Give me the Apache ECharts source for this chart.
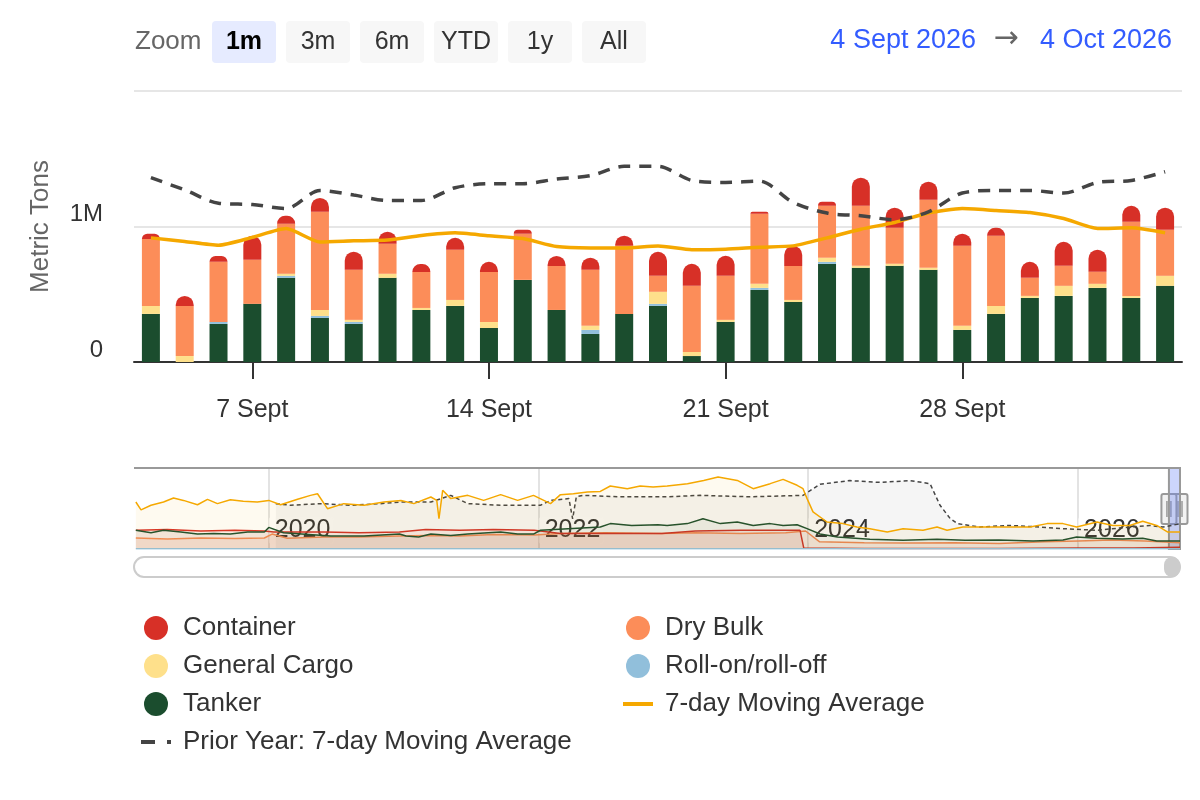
<!DOCTYPE html>
<html>
<head>
<meta charset="utf-8">
<script src="https://cdn.jsdelivr.net/npm/echarts@6/dist/echarts.min.js"></script>
<style>
html, body { margin: 0; padding: 0; background: #fff; }
#chart { width: 1200px; height: 800px; }
</style>
</head>
<body>
<div id="chart"></div>
<script>
// daily tonnage, millions of metric tons
var dates = ['2026-09-04','2026-09-05','2026-09-06','2026-09-07','2026-09-08','2026-09-09','2026-09-10',
  '2026-09-11','2026-09-12','2026-09-13','2026-09-14','2026-09-15','2026-09-16','2026-09-17','2026-09-18',
  '2026-09-19','2026-09-20','2026-09-21','2026-09-22','2026-09-23','2026-09-24','2026-09-25','2026-09-26',
  '2026-09-27','2026-09-28','2026-09-29','2026-09-30','2026-10-01','2026-10-02','2026-10-03','2026-10-04'];
var tanker = [0.355,0,0.281,0.429,0.621,0.325,0.281,0.621,0.384,0.414,0.251,0.606,0.384,0.207,0.355,
  0.414,0.044,0.296,0.532,0.443,0.724,0.695,0.71,0.68,0.237,0.355,0.473,0.488,0.547,0.473,0.562];
var roro = [0,0,0.015,0,0.015,0.015,0.015,0,0,0,0,0,0,0.03,0,
  0.015,0,0,0.015,0,0.015,0,0,0,0,0,0,0,0,0,0];
var generalCargo = [0.059,0.044,0,0,0.015,0.044,0.015,0.03,0.015,0.044,0.044,0,0,0.03,0,
  0.089,0.03,0.015,0.03,0.015,0.03,0.015,0.015,0.015,0.03,0.059,0.015,0.074,0.03,0.015,0.074];
var dryBulk = [0.493,0.37,0.443,0.325,0.37,0.724,0.37,0.222,0.266,0.37,0.37,0.34,0.325,0.414,0.503,
  0.118,0.488,0.325,0.517,0.251,0.384,0.443,0.266,0.503,0.591,0.517,0.133,0.148,0.089,0.547,0.34];
var container = [0.039,0.074,0.044,0.177,0.059,0.103,0.133,0.089,0.059,0.089,0.074,0.03,0.074,0.089,0.074,
  0.177,0.163,0.148,0.015,0.148,0.03,0.207,0.148,0.133,0.089,0.059,0.118,0.177,0.163,0.118,0.163];
var movingAvg = [0.916,0.89,0.862,0.92,0.985,0.886,0.894,0.9,0.934,0.953,0.931,0.911,0.852,0.842,0.842,
  0.857,0.828,0.832,0.847,0.857,0.916,0.98,1.03,1.1,1.133,1.118,1.103,1.059,0.985,0.99,0.953];
var priorYearAvg = [1.36,1.27,1.172,1.162,1.133,1.266,1.232,1.192,1.192,1.286,1.316,1.316,1.35,1.375,1.444,
  1.444,1.34,1.325,1.335,1.177,1.099,1.079,1.05,1.108,1.247,1.266,1.266,1.247,1.325,1.34,1.404];

// navigator (whole history), read coarsely from the overview strip
var navMovingAvg = [['2019-01-06',2.61],['2019-01-20',2.17],['2019-02-16',2.43],['2019-03-22',2.61],['2019-04-18',2.83],
  ['2019-05-15',2.7],['2019-06-22',2.46],['2019-07-19',2.76],['2019-08-15',2.52],['2019-09-19',2.74],['2019-10-24',2.65],
  ['2019-12-01',2.61],['2020-01-01',2.7],['2020-02-02',2.46],['2020-03-19',2.76],['2020-04-23',2.98],['2020-05-12',3.07],
  ['2020-06-08',2.24],['2020-07-22',2.52],['2020-09-15',2.43],['2020-11-08',2.61],['2020-12-24',2.7],['2021-01-28',2.52],
  ['2021-03-15',2.89],['2021-03-31',2.7],['2021-04-06',1.68],['2021-04-16',3.26],['2021-05-08',2.8],['2021-06-23',2.98],
  ['2021-08-05',2.7],['2021-09-20',3.02],['2021-11-05',2.7],['2021-12-18',2.98],['2022-02-02',2.52],['2022-03-01',3.02],
  ['2022-04-05',3.07],['2022-05-13',3.17],['2022-06-17',3.2],['2022-07-14',3.5],['2022-08-29',3.35],['2022-10-03',3.5],
  ['2022-11-07',3.44],['2022-12-15',3.5],['2023-02-08',3.63],['2023-03-24',3.81],['2023-05-02',4.0],['2023-06-23',3.81],
  ['2023-08-05',3.35],['2023-09-20',3.63],['2023-10-25',3.87],['2023-12-02',3.54],['2023-12-18',3.35],['2023-12-29',2.8],
  ['2024-01-14',2.06],['2024-02-21',1.5],['2024-04-04',1.41],['2024-05-12',1.22],['2024-06-16',1.13],['2024-08-02',0.94],
  ['2024-09-14',1.13],['2024-11-07',1.04],['2024-12-15',1.22],['2025-01-11',1.04],['2025-02-23',1.22],['2025-05-26',1.22],
  ['2025-08-24',1.22],['2025-10-09',1.41],['2025-11-21',1.41],['2025-12-28',1.22],['2026-02-21',1.5],['2026-04-05',1.31],
  ['2026-05-21',1.31],['2026-06-25',1.54],['2026-08-02',1.31],['2026-09-01',0.94],['2026-10-04',0.95]];
var navPriorYear = [['2020-01-20',2.52],['2020-03-01',2.43],['2020-05-21',2.52],['2020-08-10',2.43],['2020-10-30',2.52],
  ['2020-12-24',2.61],['2021-03-15',2.61],['2021-05-08',2.98],['2021-06-23',2.52],['2021-09-20',2.43],['2022-01-06',2.43],
  ['2022-02-02',2.7],['2022-03-24',2.8],['2022-04-03',1.67],['2022-04-13',2.9],['2022-05-02',2.98],['2022-08-10',2.9],
  ['2022-12-15',2.9],['2023-03-15',2.98],['2023-07-28',2.9],['2023-12-18',2.98],['2024-02-02',3.6],['2024-04-23',3.8],
  ['2024-07-14',3.7],['2024-10-03',3.8],['2024-11-26',3.63],['2024-12-23',2.43],['2025-01-20',1.68],['2025-02-08',1.41],
  ['2025-04-10',1.22],['2025-07-01',1.31],['2025-09-20',1.22],['2025-11-21',1.13],['2026-02-21',1.04],['2026-05-21',1.22],
  ['2026-07-14',1.31],['2026-08-19',1.22],['2026-10-04',1.4]];
var navTanker = [['2019-01-06',1.04],['2019-02-16',0.9],['2019-03-22',1.04],['2019-05-08',0.94],['2019-06-22',0.83],
  ['2019-08-05',0.86],['2019-09-19',0.83],['2019-11-05',0.94],['2019-12-20',0.94],['2020-01-01',1.2],['2020-02-10',0.9],
  ['2020-06-17',0.72],['2020-09-15',0.72],['2020-12-20',0.83],['2021-01-07',0.72],['2021-02-10',0.67],['2021-03-15',0.83],
  ['2021-05-08',0.75],['2021-06-23',0.83],['2021-09-20',0.94],['2021-11-05',0.83],['2021-12-18',0.83],['2022-01-06',1.04],
  ['2022-06-17',1.22],['2022-07-14',1.41],['2022-09-10',1.31],['2022-11-20',1.35],['2022-12-15',1.31],['2023-02-08',1.41],
  ['2023-03-22',1.68],['2023-05-08',1.41],['2023-06-23',1.5],['2023-08-05',1.31],['2023-09-20',1.41],['2023-10-25',1.31],
  ['2023-12-02',1.35],['2023-12-29',1.13],['2024-02-02',0.83],['2024-03-20',0.67],['2024-06-16',0.54],['2024-09-14',0.48],
  ['2024-12-15',0.54],['2025-03-01',0.48],['2025-06-01',0.5],['2025-09-01',0.45],['2025-11-21',0.5],['2025-12-28',0.67],
  ['2026-02-21',0.6],['2026-05-01',0.55],['2026-06-25',0.6],['2026-08-02',0.45],['2026-10-04',0.45]];
var navContainer = [['2019-01-06',1.04],['2019-04-01',1.08],['2019-07-01',1.0],['2019-10-01',1.04],['2019-12-20',1.0],
  ['2020-01-15',0.95],['2020-06-01',0.95],['2020-09-01',0.9],['2020-12-20',0.95],['2021-03-01',1.08],['2021-06-01',1.04],
  ['2021-09-01',1.08],['2021-12-20',1.04],['2022-03-01',0.86],['2022-07-01',0.86],['2022-12-01',0.86],['2023-03-01',1.0],
  ['2023-07-01',1.04],['2023-12-10',1.04],['2023-12-20',0.05],['2024-06-01',0.03],['2025-01-01',0.03],['2025-06-01',0.03],
  ['2026-01-01',0.05],['2026-06-01',0.05],['2026-10-04',0.1]];
var navDryBulk = [['2019-01-06',0.61],['2019-04-01',0.55],['2019-07-01',0.61],['2019-10-01',0.58],['2019-12-20',0.61],
  ['2020-01-10',0.83],['2020-02-20',0.6],['2020-06-01',0.67],['2020-09-01',0.67],['2020-12-20',0.72],['2021-03-01',0.75],
  ['2021-06-01',0.72],['2021-09-01',0.8],['2021-12-20',0.78],['2022-03-01',0.86],['2022-07-01',0.9],['2022-12-01',0.86],
  ['2023-03-01',0.9],['2023-07-01',0.86],['2023-11-01',0.9],['2023-12-25',1.0],['2024-02-01',0.4],['2024-06-01',0.35],
  ['2024-10-01',0.33],['2025-02-01',0.35],['2025-06-01',0.3],['2025-10-01',0.4],['2026-01-01',0.45],['2026-04-01',0.5],
  ['2026-07-01',0.45],['2026-10-04',0.35]];
var navRoro = [['2019-01-06',0.02],['2022-01-01',0.02],['2024-01-01',0.01],['2026-10-04',0.01]];
var navStart = '2019-01-01';
var navEnd = '2026-10-04';
var navYears = ['2020-01-01','2022-01-01','2024-01-01','2026-01-01'];
var labelDays = ['2026-09-07','2026-09-14','2026-09-21','2026-09-28'];
var zoomButtons = ['1m','3m','6m','YTD','1y','All'];

var FONT = "'Liberation Sans', Arial, Helvetica, sans-serif";
var COLORS = {
  container: '#d73027', dryBulk: '#fc8d59', general: '#fee08b',
  roro: '#91bfdb', tanker: '#1b4d2e', avg: '#f5a800', prior: '#444444'
};
var LINE_ICON = 'path://M0,0h30v4h-30z';
var DASH_ICON = 'path://M0,0h14v4h-14zM26,0h4v4h-4z';

function ts(d) { return +new Date(d + 'T00:00:00'); }
function toPairs(arr) { return arr.map(function (p) { return [ts(p[0]), p[1]]; }); }
function dayLabel(d) {
  var parts = d.split('-');
  return (+parts[2]) + ' ' + (parts[1] === '09' ? 'Sept' : 'Oct');
}
function showDay(i, v) { return labelDays.indexOf(v) >= 0; }

var chart = echarts.init(document.getElementById('chart'));

function barSeries(name, data, color, top) {
  return {
    name: name, type: 'bar', stack: 'total', data: data, barWidth: 18,
    xAxisIndex: 0, yAxisIndex: 0,
    itemStyle: { color: color, borderRadius: top ? [9, 9, 0, 0] : 0 }
  };
}
function navSeries(name, data, color, dashed, z, fill) {
  return {
    name: name, type: 'line', xAxisIndex: 1, yAxisIndex: 1, data: toPairs(data),
    showSymbol: false, symbol: 'none', silent: true, z: z,
    lineStyle: { color: color, width: 1.5, type: dashed ? [4, 3] : 'solid' },
    areaStyle: { color: color, opacity: fill }
  };
}
function legendBox(left, items) {
  return {
    left: left, top: 615, orient: 'vertical', padding: 0,
    itemGap: 12, itemWidth: 30, itemHeight: 24,
    textStyle: { fontSize: 26, color: '#333', lineHeight: 26, padding: [0, 0, 0, 7] },
    data: items
  };
}

var option = {
  animation: false,
  textStyle: { fontFamily: FONT },
  grid: [
    { left: 134, right: 18, top: 91, height: 271 },
    { left: 134, right: 20, top: 468, height: 81 }
  ],
  legend: [
    legendBox(141, [
      { name: 'Container', icon: 'circle' },
      { name: 'General Cargo', icon: 'circle' },
      { name: 'Tanker', icon: 'circle' },
      { name: 'Prior Year: 7-day Moving Average', icon: DASH_ICON }
    ]),
    legendBox(623, [
      { name: 'Dry Bulk', icon: 'circle' },
      { name: 'Roll-on/roll-off', icon: 'circle' },
      { name: '7-day Moving Average', icon: LINE_ICON }
    ])
  ],
  xAxis: [
    {
      type: 'category', gridIndex: 0, data: dates,
      axisLine: { show: true, lineStyle: { color: '#333', width: 2 } },
      axisTick: { show: true, alignWithLabel: true, length: 17, interval: showDay, lineStyle: { color: '#333', width: 2 } },
      axisLabel: { interval: showDay, formatter: dayLabel, fontSize: 25, color: '#333', margin: 36 }
    },
    {
      // timestamps on a plain value axis; year lines placed by customValues
      type: 'value', gridIndex: 1, min: ts(navStart), max: ts(navEnd),
      axisLine: { show: false },
      axisTick: { show: false, customValues: navYears.map(ts) },
      splitLine: { show: true, lineStyle: { color: '#e3e3e3', width: 2 } },
      axisLabel: {
        customValues: navYears.map(ts), inside: true, margin: 5, align: 'left',
        fontSize: 25, color: '#333',
        backgroundColor: 'rgba(255,255,255,0.6)', borderRadius: 3, padding: [1, 3, 1, 6],
        formatter: function (v) { return String(new Date(v).getFullYear()); }
      }
    }
  ],
  yAxis: [
    {
      type: 'value', gridIndex: 0, min: 0, max: 2, interval: 1,
      name: 'Metric Tons', nameLocation: 'middle', nameGap: 80,
      nameTextStyle: { fontSize: 26, color: '#666' },
      axisLine: { show: false }, axisTick: { show: false },
      splitLine: { lineStyle: { color: '#e6e6e6', width: 2 } },
      axisLabel: {
        showMaxLabel: false, fontSize: 24, color: '#333', margin: 31,
        verticalAlign: 'bottom',
        formatter: function (v) { return v === 0 ? '0' : v + 'M'; }
      }
    },
    { type: 'value', gridIndex: 1, min: 0, max: 4.5, show: false }
  ],
  series: [
    barSeries('Tanker', tanker, COLORS.tanker),
    barSeries('Roll-on/roll-off', roro, COLORS.roro),
    barSeries('General Cargo', generalCargo, COLORS.general),
    barSeries('Dry Bulk', dryBulk, COLORS.dryBulk),
    barSeries('Container', container, COLORS.container, true),
    {
      name: '7-day Moving Average', type: 'line', data: movingAvg, xAxisIndex: 0, yAxisIndex: 0,
      symbol: 'none', smooth: 0.2, z: 5, color: COLORS.avg,
      lineStyle: { color: COLORS.avg, width: 3.5 }
    },
    {
      name: 'Prior Year: 7-day Moving Average', type: 'line', data: priorYearAvg, xAxisIndex: 0, yAxisIndex: 0,
      symbol: 'none', smooth: 0.3, z: 6, color: COLORS.prior,
      lineStyle: { color: COLORS.prior, width: 3.5, type: [12, 9] }
    },
    navSeries('nav-drybulk', navDryBulk, COLORS.dryBulk, false, 2, 0.12),
    navSeries('nav-container', navContainer, COLORS.container, false, 2, 0.08),
    navSeries('nav-tanker', navTanker, COLORS.tanker, false, 3, 0.05),
    navSeries('nav-roro', navRoro, COLORS.roro, false, 3, 0.05),
    navSeries('nav-prior', navPriorYear, COLORS.prior, true, 3, 0.05),
    (function () {
      var s = navSeries('nav-avg', navMovingAvg, COLORS.avg, false, 4, 0.06);
      s.markArea = {
        silent: true,
        itemStyle: { color: 'rgba(110,135,245,0.35)', borderColor: '#999', borderWidth: 2 },
        data: [[{ xAxis: ts(dates[0]) }, { xAxis: ts(dates[dates.length - 1]) }]]
      };
      return s;
    })()
  ]
};

chart.setOption(option);

// range selector, date range, navigator handles and scrollbar
var els = [];
els.push({ type: 'text', x: 135, y: 42, style: { text: 'Zoom', fontSize: 26, fontFamily: FONT, fill: '#666', align: 'left', verticalAlign: 'middle' } });
zoomButtons.forEach(function (label, i) {
  var bx = 212 + i * 74;
  var on = i === 0;
  els.push({ type: 'rect', shape: { x: bx, y: 21, width: 64, height: 42, r: 4 }, style: { fill: on ? '#e6ebff' : '#f7f7f7' } });
  els.push({ type: 'text', x: bx + 32, y: 42, style: {
    text: label, fontSize: 25, fontFamily: FONT, fontWeight: on ? 'bold' : 'normal',
    fill: on ? '#000' : '#333', align: 'center', verticalAlign: 'middle' } });
});
els.push({ type: 'text', x: 976, y: 41, style: { text: dayLabel(dates[0]) + ' 2026', fontSize: 27, fontFamily: FONT, fill: '#335cff', align: 'right', verticalAlign: 'middle' } });
els.push({ type: 'text', x: 1006, y: 39, style: { text: '\u2192', fontSize: 30, fontFamily: "'DejaVu Sans', sans-serif", fill: '#666', align: 'center', verticalAlign: 'middle' } });
els.push({ type: 'text', x: 1172, y: 41, style: { text: dayLabel(dates[dates.length - 1]) + ' 2026', fontSize: 27, fontFamily: FONT, fill: '#335cff', align: 'right', verticalAlign: 'middle' } });

// navigator top outline
els.push({ type: 'line', shape: { x1: 134, y1: 468, x2: 1180, y2: 468 }, style: { stroke: '#999', lineWidth: 2 } });

var hx0 = chart.convertToPixel({ xAxisIndex: 1 }, ts(dates[0]));
var hx1 = chart.convertToPixel({ xAxisIndex: 1 }, ts(dates[dates.length - 1]));
[hx1, hx0].forEach(function (hx) {
  els.push({ type: 'rect', shape: { x: hx - 7.5, y: 494, width: 15, height: 30, r: 2 }, style: { fill: '#f2f2f2', stroke: '#999', lineWidth: 2 } });
  els.push({ type: 'line', shape: { x1: hx - 2, y1: 501, x2: hx - 2, y2: 517 }, style: { stroke: '#999', lineWidth: 1.5 } });
  els.push({ type: 'line', shape: { x1: hx + 2, y1: 501, x2: hx + 2, y2: 517 }, style: { stroke: '#999', lineWidth: 1.5 } });
});

// scrollbar
els.push({ type: 'rect', shape: { x: 134, y: 557, width: 1046, height: 20, r: 10 }, style: { fill: '#fff', stroke: '#cccccc', lineWidth: 2 } });
els.push({ type: 'rect', shape: { x: 1164, y: 557, width: 16, height: 20, r: 10 }, style: { fill: '#cccccc' } });

chart.setOption({ graphic: { elements: els } });
</script>
</body>
</html>
